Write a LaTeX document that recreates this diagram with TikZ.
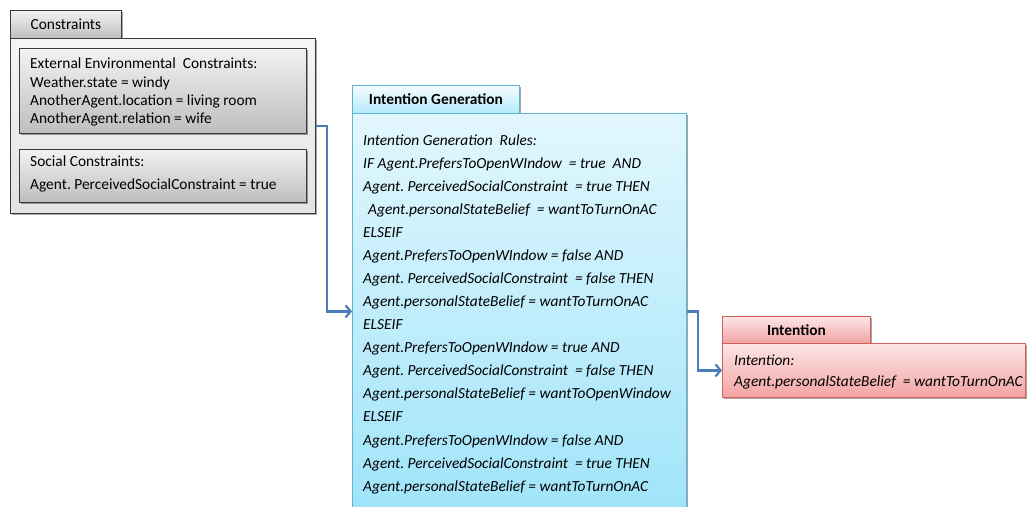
\documentclass[tikz,border=0pt]{standalone}
\usepackage{fontspec}
\setmainfont{Carlito}
\usetikzlibrary{shadows,arrows.meta}
\definecolor{connbleu}{HTML}{4A7EBB}
\definecolor{bordbleu}{HTML}{5FB4CF}
\definecolor{bordrouge}{HTML}{D0605E}
\definecolor{bordgris}{HTML}{3A3A3A}
\definecolor{grishaut}{HTML}{F2F2F2}
\definecolor{grisbas}{HTML}{BEBEBE}
\definecolor{bleuhaut}{HTML}{E2F7FD}
\definecolor{bleubas}{HTML}{A0E4FA}
\definecolor{rougehaut}{HTML}{FDE6E6}
\definecolor{rougebas}{HTML}{F3A3A3}
\frenchspacing
\begin{document}
\begin{tikzpicture}[x=1pt, y=-1pt, font=\fontsize{15.4}{23}\selectfont,
    ombre/.style={drop shadow={opacity=0.35, shadow xshift=2pt, shadow yshift=-2pt, fill=black}},
    boitegris/.style={draw=bordgris, thick, top color=grishaut, bottom color=grisbas, ombre, inner sep=0pt, anchor=north west},
    boitebleu/.style={draw=bordbleu, thick, top color=bleuhaut, bottom color=bleubas, ombre, inner sep=0pt, anchor=north west},
    boiterouge/.style={draw=bordrouge, thick, top color=rougehaut, bottom color=rougebas, ombre, inner sep=0pt, anchor=north west},
    texte/.style={anchor=north west, align=left, inner sep=0pt},
    lien/.style={draw=connbleu, line width=2.2pt, -{Straight Barb[length=5pt, width=12pt]}}]
    \useasboundingbox (0,0) rectangle (1027,506);

    % Bloc contraintes
    \node[boitegris, minimum width=111pt, minimum height=28pt] (consTab) at (10,10) {Constraints};
    \node[boitegris, top color=gray!8, bottom color=gray!22, minimum width=305pt, minimum height=175pt] (cons) at (10,38) {};
    \node[boitegris, minimum width=287pt, minimum height=85pt] (ext) at (19,48) {};
    \node[boitegris, minimum width=287pt, minimum height=53pt] (soc) at (19,149) {};
    \node[texte, font=\fontsize{15.4}{18.3}\selectfont] (extTxt) at (30,58)
        {External Environmental\ \ Constraints:\\Weather.state = windy\\AnotherAgent.location = living room\\AnotherAgent.relation = wife};
    \node[texte, font=\fontsize{15.4}{23.3}\selectfont] (socTxt) at (30,155.5)
        {Social Constraints:\\Agent. PerceivedSocialConstraint = true};

    % Bloc generation d'intention
    \node[boitebleu, top color=white!70!bleuhaut, bottom color=bleubas!80, minimum width=167pt, minimum height=28pt, font=\fontsize{15.4}{15}\selectfont\bfseries] (genTab) at (352,85) {Intention Generation};
    \node[boitebleu, minimum width=334pt, minimum height=396pt] (gen) at (352,113) {};
    \node[texte, font=\fontsize{15.4}{23.05}\selectfont\itshape] (genTxt) at (363,134.5)
        {Intention Generation\ \ Rules:\\
         IF Agent.PrefersToOpenWIndow\ \ = true\ \ AND\\
         Agent. PerceivedSocialConstraint\ \ = true THEN\\
         \hspace*{5pt}Agent.personalStateBelief\ \ = wantToTurnOnAC\\
         ELSEIF\\
         Agent.PrefersToOpenWIndow = false AND\\
         Agent. PerceivedSocialConstraint\ \ = false THEN\\
         Agent.personalStateBelief = wantToTurnOnAC\\
         ELSEIF\\
         Agent.PrefersToOpenWIndow = true\ AND\\
         Agent. PerceivedSocialConstraint\ \ = false THEN\\
         Agent.personalStateBelief = wantToOpenWindow\\
         ELSEIF\\
         Agent.PrefersToOpenWIndow = false AND\\
         Agent. PerceivedSocialConstraint\ \ = true THEN\\
         Agent.personalStateBelief = wantToTurnOnAC};

    % Bloc intention
    \node[boiterouge, minimum width=148pt, minimum height=27pt, font=\fontsize{15.4}{15}\selectfont\bfseries] (intTab) at (722,316) {Intention};
    \node[boiterouge, minimum width=303pt, minimum height=54pt] (int) at (722,343) {};
    \node[texte, font=\fontsize{15.4}{20.7}\selectfont\itshape] (intTxt) at (734,354.5)
        {Intention:\\Agent.personalStateBelief\ \ = wantToTurnOnAC};

    % Liens
    \draw[lien] (cons.east) -- ++(11pt,0) |- (gen.west);
    \draw[lien] (gen.east) -- ++(11pt,0) |- (int.west);
\end{tikzpicture}
\end{document}
